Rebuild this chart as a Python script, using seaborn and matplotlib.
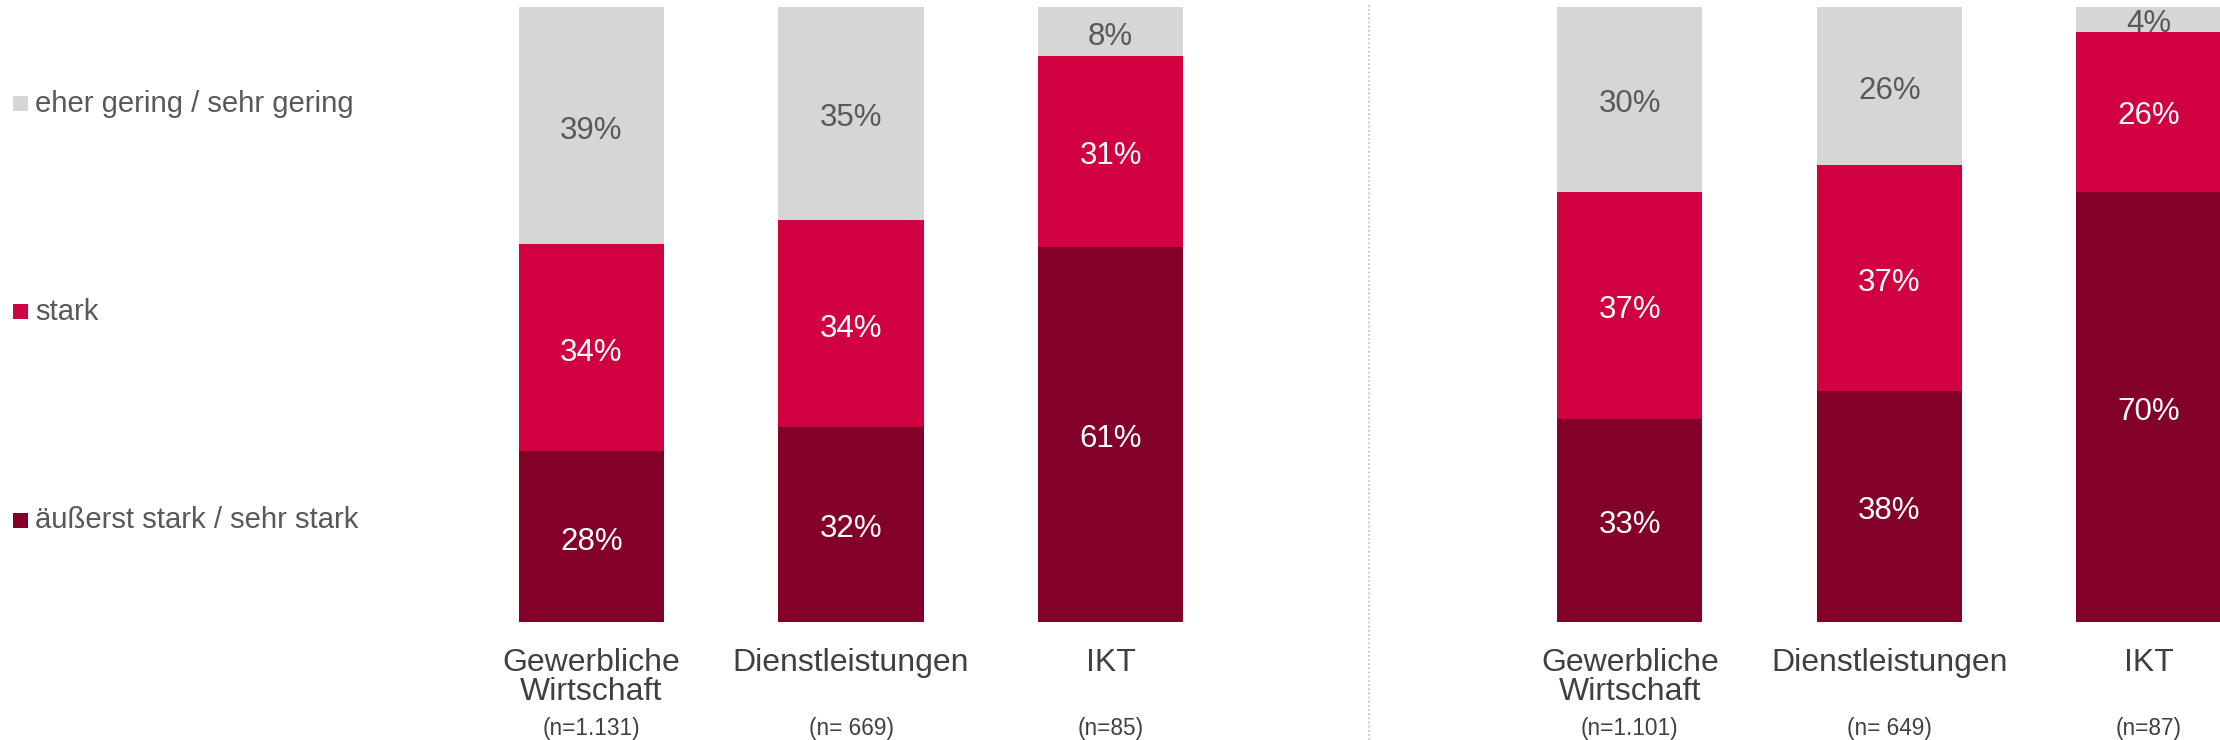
import numpy as np
import pandas as pd
import seaborn as sns
import matplotlib.pyplot as plt
from matplotlib.patches import Rectangle
from matplotlib.lines import Line2D

sns.set_style("white")
plt.rcParams['font.family'] = ['Liberation Sans', 'DejaVu Sans']

categories = ["Gewerbliche\nWirtschaft", "Dienstleistungen", "IKT"]
levels = ["äußerst stark / sehr stark", "stark", "eher gering / sehr gering"]
colors = ["#830028", "#D10041", "#D6D6D6"]
text_colors = ["white", "white", "#595959"]

# left panel
n_left = ["(n=1.131)", "(n= 669)", "(n=85)"]
sehr_stark_left = [28, 32, 61]
stark_left = [34, 34, 31]
gering_left = [39, 35, 8]

# right panel
n_right = ["(n=1.101)", "(n= 649)", "(n=87)"]
sehr_stark_right = [33, 38, 70]
stark_right = [37, 37, 26]
gering_right = [30, 26, 4]


def draw_panel(ax, sehr, st, ger, n_labels):
    df = pd.DataFrame({"Kategorie": categories,
                       levels[0]: sehr, levels[1]: st, levels[2]: ger})
    total = df[levels].sum(axis=1)
    shares = df[levels].div(total, axis=0)
    cum = shares.cumsum(axis=1)
    # draw from the top layer down so the stacks show through
    for i in [2, 1, 0]:
        sns.barplot(x=df["Kategorie"], y=cum[levels[i]], color=colors[i],
                    saturation=1, width=0.56, linewidth=0, ax=ax)
    for j in range(len(categories)):
        for i in range(3):
            bottom = cum.iloc[j, i] - shares.iloc[j, i]
            ax.text(j, bottom + shares.iloc[j, i] / 2 - 0.008, f"{df.iloc[j][levels[i]]}%",
                    ha='center', va='center', fontsize=22.5, color=text_colors[i])
        ax.text(j, -0.042, df["Kategorie"][j], transform=ax.get_xaxis_transform(),
                ha='center', va='top', fontsize=23, color='#404040', linespacing=0.96)
        ax.text(j, -0.155, n_labels[j], transform=ax.get_xaxis_transform(),
                ha='center', va='top', fontsize=16.3, color='#404040')
    ax.set_xlim(-0.5, 2.5)
    ax.set_ylim(0, 1)
    ax.set_xticks([])
    ax.set_yticks([])
    ax.set_xlabel("")
    ax.set_ylabel("")
    sns.despine(ax=ax, left=True, bottom=True)


fig = plt.figure(figsize=(22.2, 7.4), dpi=100)
ax1 = fig.add_axes([0.208, 0.1595, 0.3507, 0.831])
ax2 = fig.add_axes([0.6757, 0.1595, 0.3507, 0.831])
draw_panel(ax1, sehr_stark_left, stark_left, gering_left, n_left)
draw_panel(ax2, sehr_stark_right, stark_right, gering_right, n_right)

# dotted divider
fig.add_artist(Line2D([0.6167, 0.6167], [0.0, 0.993], transform=fig.transFigure,
                      color='#BFBFBF', linestyle=(0, (1, 1.5)), linewidth=1.2))

# legend on the left
legend_y = [0.860, 0.579, 0.297]
for k, i in enumerate([2, 1, 0]):
    fig.add_artist(Rectangle((13 / 2220, legend_y[k] - 0.010), 15 / 2220, 15 / 740,
                             transform=fig.transFigure, color=colors[i], lw=0))
    fig.text(35 / 2220, legend_y[k], levels[i], ha='left', va='center',
             fontsize=21.1, color='#595959')

fig.savefig("out.png", dpi=100)
